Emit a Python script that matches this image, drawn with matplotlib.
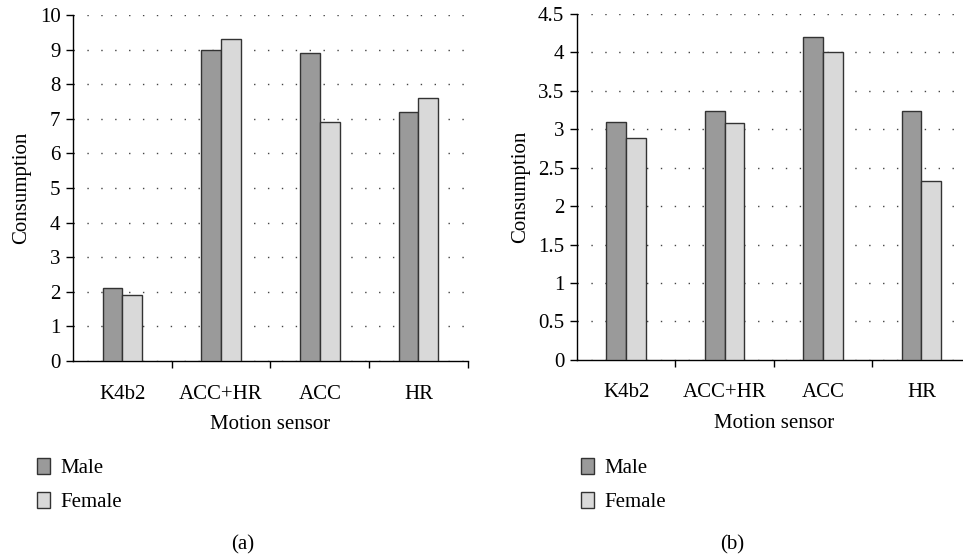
import numpy as np
import matplotlib
matplotlib.use("Agg")
import matplotlib.pyplot as plt

plt.rcParams['font.family'] = ['Liberation Serif', 'DejaVu Serif']
plt.rcParams['font.size'] = 15

categories = ['K4b2', 'ACC+HR', 'ACC', 'HR']
male_a = [2.1, 9.0, 8.9, 7.2]
female_a = [1.9, 9.3, 6.9, 7.6]
male_b = [3.1, 3.24, 4.2, 3.24]
female_b = [2.89, 3.08, 4.0, 2.33]

male_color = '#9a9a9a'
female_color = '#d9d9d9'

fig = plt.figure(figsize=(9.63, 5.57), dpi=100)

def panel(rect, male, female, ymax, ystep, tag, tag_x, leg_x):
    ax = fig.add_axes(rect)
    x = np.arange(len(categories)) + 0.5
    w = 0.2
    ax.bar(x - w / 2, male, w, color=male_color, edgecolor='#333333', linewidth=1, label='Male', zorder=3)
    ax.bar(x + w / 2, female, w, color=female_color, edgecolor='#333333', linewidth=1, label='Female', zorder=3)
    ax.set_xlim(0, len(categories))
    ax.set_ylim(0, ymax)
    yt = np.arange(0, ymax + ystep / 2, ystep)
    ax.set_yticks(yt)
    ax.set_yticklabels(['%g' % v for v in yt])
    ax.set_xticks(x)
    ax.set_xticklabels(categories)
    ax.set_xticks(np.arange(1, len(categories) + 1), minor=True)
    ax.tick_params(axis='x', which='major', length=0, pad=17)
    ax.tick_params(axis='x', which='minor', length=5, direction='out', width=1)
    ax.tick_params(axis='y', length=5, direction='out', width=1, pad=4)
    for s in ['top', 'right']:
        ax.spines[s].set_visible(False)
    ax.spines['left'].set_linewidth(1)
    ax.spines['bottom'].set_linewidth(1)
    ax.yaxis.grid(True, linestyle=(0, (1, 9)), color='#444444', linewidth=1)
    ax.set_axisbelow(True)
    ax.set_ylabel('Consumption', labelpad=6)
    ax.set_xlabel('Motion sensor', labelpad=8)
    ax.legend(loc='upper left', bbox_to_anchor=(leg_x, 0.196), bbox_transform=fig.transFigure,
              frameon=False, handlelength=0.6, handleheight=0.8, handletextpad=0.5,
              labelspacing=0.65, borderpad=0)
    fig.text(tag_x, 0.004, tag, ha='center', va='bottom')
    return ax

panel([0.0758, 0.352, 0.410, 0.621], male_a, female_a, 10, 1, '(a)', 0.252, 0.028)
panel([0.599, 0.354, 0.409, 0.621], male_b, female_b, 4.5, 0.5, '(b)', 0.760, 0.593)

fig.savefig('out.png', dpi=100)
